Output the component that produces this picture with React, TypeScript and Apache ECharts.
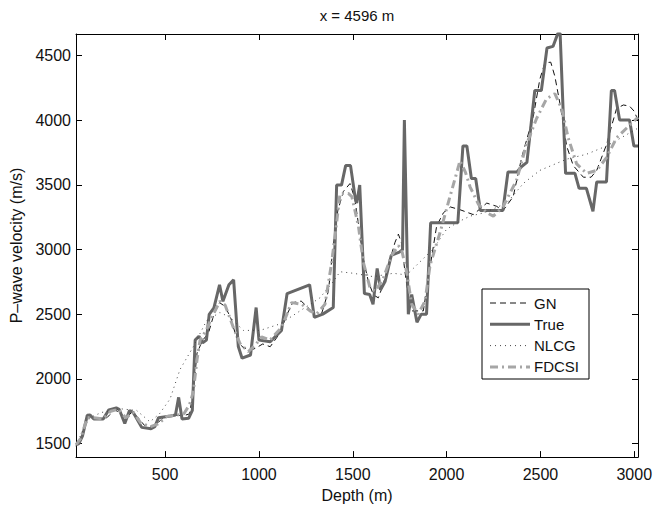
import React, { useEffect, useRef } from "react";
import * as echarts from "echarts";

const xTicks = [500, 1000, 1500, 2000, 2500, 3000];
const yTicks = [1500, 2000, 2500, 3000, 3500, 4000, 4500];
const seriesNames = ["GN", "True", "NLCG", "FDCSI"];

const gnData = [
  [25, 1480], [50, 1530], [85, 1700], [110, 1710], [140, 1690], [190, 1700], [230, 1760], [260, 1740],
  [290, 1690], [320, 1740], [350, 1710], [390, 1640], [430, 1625], [460, 1660], [500, 1710], [550, 1720],
  [600, 1715], [630, 1730], [650, 1900], [670, 2200], [700, 2300], [730, 2350], [760, 2500], [790, 2590],
  [820, 2560], [850, 2470], [880, 2320], [910, 2250], [950, 2220], [980, 2236], [1020, 2270], [1060, 2249],
  [1110, 2350], [1150, 2500], [1180, 2590], [1225, 2602], [1270, 2540], [1300, 2476], [1335, 2510],
  [1370, 2678], [1396, 3031], [1420, 3300], [1450, 3450], [1485, 3511], [1510, 3400], [1530, 3200],
  [1556, 2930], [1583, 2753], [1610, 2650], [1636, 2627], [1660, 2720], [1690, 2880], [1725, 3056],
  [1743, 3120], [1760, 3050], [1778, 2829], [1800, 2600], [1814, 2526], [1876, 2526], [1910, 2850],
  [1947, 3183], [1983, 3285], [2020, 3330], [2071, 3309], [2142, 3271], [2214, 3360], [2267, 3335],
  [2300, 3300], [2355, 3410], [2400, 3713], [2462, 4030], [2497, 4319], [2524, 4445], [2555, 4450],
  [2577, 4340], [2604, 4130], [2640, 3800], [2675, 3650], [2729, 3560], [2770, 3560], [2800, 3613],
  [2853, 3815], [2880, 3960], [2906, 4092], [2942, 4119], [2975, 4110], [3000, 4070], [3020, 4000],
];

const trueData = [
  [25, 1490], [40, 1500], [60, 1560], [85, 1718], [100, 1720], [120, 1690], [170, 1690], [200, 1760],
  [240, 1775], [255, 1765], [285, 1655], [310, 1755], [330, 1740], [375, 1625], [425, 1615], [445, 1630],
  [465, 1700], [530, 1713], [555, 1720], [572, 1857], [590, 1690], [625, 1695], [645, 1756], [660, 2300],
  [680, 2330], [700, 2280], [720, 2300], [735, 2500], [760, 2550], [790, 2728], [808, 2600], [840, 2728],
  [865, 2766], [890, 2250], [910, 2160], [955, 2185], [985, 2552], [1000, 2300], [1060, 2287],
  [1120, 2375], [1150, 2660], [1270, 2728], [1295, 2476], [1340, 2501], [1396, 2552], [1414, 3499],
  [1440, 3499], [1462, 3650], [1488, 3650], [1512, 3410], [1521, 3360], [1537, 3499], [1562, 2660],
  [1590, 2653], [1608, 2577], [1630, 2855], [1648, 2690], [1672, 2753], [1705, 2956], [1748, 2981],
  [1765, 3000], [1775, 4003], [1796, 2501], [1814, 2653], [1842, 2438], [1865, 2501], [1893, 2501],
  [1915, 3208], [2060, 3208], [2087, 3802], [2108, 3802], [2132, 3550], [2155, 3550], [2180, 3302],
  [2300, 3302], [2327, 3600], [2375, 3600], [2400, 3643], [2428, 3675], [2470, 4231], [2505, 4231],
  [2535, 4560], [2567, 4572], [2593, 4673], [2605, 4673], [2634, 3590], [2684, 3590], [2706, 3474],
  [2745, 3474], [2780, 3297], [2800, 3524], [2852, 3524], [2878, 4231], [2895, 4231], [2922, 4003],
  [2975, 4003], [2998, 3802], [3020, 3802],
];

const nlcgData = [
  [25, 1480], [60, 1600], [100, 1700], [160, 1740], [260, 1769], [348, 1756], [419, 1668], [470, 1730],
  [526, 1844], [579, 2072], [650, 2249], [721, 2451], [792, 2514], [846, 2476], [917, 2375], [1006, 2375],
  [1112, 2425], [1219, 2526], [1325, 2627], [1396, 2753], [1432, 2829], [1503, 2817], [1609, 2791],
  [1716, 2817], [1787, 2804], [1858, 2905], [1929, 3006], [2000, 3158], [2071, 3221], [2125, 3259],
  [2200, 3285], [2320, 3360], [2409, 3512], [2497, 3613], [2640, 3700], [2746, 3738], [2853, 3802],
  [2960, 3890], [3020, 3940],
];

const fdcsiData = [
  [25, 1490], [50, 1540], [85, 1700], [120, 1700], [170, 1690], [210, 1750], [250, 1765], [290, 1700],
  [330, 1740], [370, 1660], [420, 1630], [460, 1650], [510, 1710], [560, 1720], [600, 1730], [630, 1800],
  [650, 1900], [670, 2150], [686, 2299], [720, 2380], [750, 2480], [792, 2602], [820, 2570], [863, 2400],
  [899, 2274], [943, 2211], [980, 2260], [1014, 2325], [1059, 2300], [1121, 2400], [1174, 2590],
  [1228, 2577], [1272, 2526], [1307, 2501], [1352, 2577], [1388, 2905], [1414, 3208], [1432, 3435],
  [1476, 3435], [1495, 3410], [1530, 3183], [1556, 2905], [1592, 2703], [1620, 2678], [1663, 2779],
  [1707, 2956], [1743, 3031], [1760, 3000], [1787, 2829], [1814, 2577], [1849, 2501], [1885, 2602],
  [1912, 2880], [1965, 3132], [2018, 3410], [2062, 3637], [2071, 3688], [2100, 3600], [2125, 3486],
  [2170, 3350], [2214, 3285], [2249, 3259], [2300, 3330], [2373, 3537], [2426, 3815], [2480, 4016],
  [2533, 4168], [2577, 4206], [2613, 4092], [2648, 3865], [2693, 3663], [2746, 3590], [2800, 3613],
  [2853, 3713], [2906, 3865], [2960, 3941], [3020, 4024],
];

const FONT = "'Liberation Sans', Arial, Helvetica, sans-serif";

const styles: Record<string, { color: string; width: number; dash: number[] | "solid" }> = {
  GN: { color: "#111111", width: 1, dash: [6, 4] },
  True: { color: "#676767", width: 3, dash: "solid" },
  NLCG: { color: "#444444", width: 1, dash: [1, 4] },
  FDCSI: { color: "#a6a6a6", width: 3, dash: [8, 4, 2, 4] },
};

export default function App() {
  const ref = useRef<HTMLDivElement>(null);
  useEffect(() => {
    const chart = echarts.init(ref.current!, null, { renderer: "svg" });
    const dataMap: Record<string, number[][]> = {
      GN: gnData,
      True: trueData,
      NLCG: nlcgData,
      FDCSI: fdcsiData,
    };
    const xMin = 25, xMax = 3020, yMin = 1395, yMax = 4668;
    const plain = (v: number) => String(v);
    const axisCommon = {
      axisLine: { show: true, onZero: false, lineStyle: { color: "#000", width: 1 } },
      splitLine: { show: false },
    };
    const legendX = 482, legendY = 289, legendW = 107, legendH = 90;
    const legendItems: any[] = [
      {
        type: "rect",
        shape: { x: legendX, y: legendY, width: legendW, height: legendH },
        style: { fill: "#fff", stroke: "#000", lineWidth: 1 },
        z: 100,
      },
    ];
    seriesNames.forEach((n, i) => {
      const y = legendY + 14 + i * 21.3;
      const s = styles[n];
      legendItems.push({
        type: "line",
        shape: { x1: legendX + 8, y1: y, x2: legendX + 48, y2: y },
        style: { stroke: s.color, lineWidth: s.width, lineDash: s.dash === "solid" ? null : s.dash },
        z: 101,
      });
      legendItems.push({
        type: "text",
        x: legendX + 52,
        y: y,
        style: { text: n, fontSize: 15, fontFamily: FONT, fill: "#111", verticalAlign: "middle", align: "left" },
        z: 101,
      });
    });
    legendItems.push({
      type: "text",
      x: 357,
      y: 15,
      style: { text: "x = 4596 m", fontSize: 15, fontFamily: FONT, fill: "#111", align: "center", verticalAlign: "middle" },
    });

    chart.setOption({
      animation: false,
      backgroundColor: "#fff",
      grid: { left: 76, right: 29, top: 34, bottom: 42, containLabel: false },
      xAxis: [
        {
          type: "value", min: xMin, max: xMax, position: "bottom", ...axisCommon,
          axisTick: { show: true, inside: true, length: 6, customValues: xTicks, lineStyle: { color: "#000" } },
          axisLabel: { customValues: xTicks, formatter: plain, fontSize: 16, color: "#111", margin: 9, fontFamily: FONT },
          name: "Depth (m)", nameLocation: "middle", nameGap: 20,
          nameTextStyle: { fontSize: 16, color: "#111", fontFamily: FONT },
        },
        {
          type: "value", min: xMin, max: xMax, position: "top", ...axisCommon,
          axisTick: { show: true, inside: true, length: 6, customValues: xTicks, lineStyle: { color: "#000" } },
          axisLabel: { show: false },
        },
      ],
      yAxis: [
        {
          type: "value", min: yMin, max: yMax, position: "left", ...axisCommon,
          axisTick: { show: true, inside: true, length: 6, customValues: yTicks, lineStyle: { color: "#000" } },
          axisLabel: { customValues: yTicks, formatter: plain, fontSize: 16, color: "#111", margin: 5, fontFamily: FONT },
          name: "P\u2013wave velocity (m/s)", nameLocation: "middle", nameGap: 45,
          nameTextStyle: { fontSize: 16, color: "#111", fontFamily: FONT },
        },
        {
          type: "value", min: yMin, max: yMax, position: "right", ...axisCommon,
          axisTick: { show: true, inside: true, length: 6, customValues: yTicks, lineStyle: { color: "#000" } },
          axisLabel: { show: false },
        },
      ],
      series: seriesNames.map((n) => ({
        name: n,
        type: "line",
        xAxisIndex: 0,
        yAxisIndex: 0,
        data: dataMap[n],
        showSymbol: false,
        symbol: "none",
        clip: true,
        lineStyle: { color: styles[n].color, width: styles[n].width, type: styles[n].dash },
      })),
      graphic: legendItems,
    });
    return () => chart.dispose();
  }, []);
  return <div ref={ref} style={{ position: "fixed", left: 0, top: 0, width: 667, height: 508 }} />;
}
